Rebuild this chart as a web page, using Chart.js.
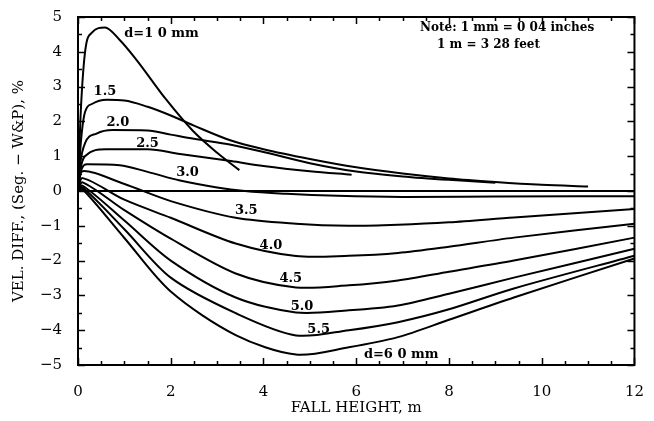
<!DOCTYPE html>
<html>
<head>
<meta charset="utf-8">
<script src="https://cdn.jsdelivr.net/npm/chart.js@4"></script>
<style>
  html, body { margin: 0; padding: 0; background: #fff; }
  #wrap { width: 654px; height: 421px; }
</style>
</head>
<body>
<div id="wrap"><canvas id="c" width="654" height="421"></canvas></div>
<script>
// ---- data (fall height m, velocity diff %) ----
const d10X = [0, 0.05, 0.15, 0.3, 0.58, 0.9, 1.26, 1.9, 2.47, 3.0, 3.48];
const d10Y = [0, 2.0, 3.97, 4.55, 4.7, 4.34, 3.77, 2.63, 1.74, 1.1, 0.6];

const d15X = [0, 0.05, 0.15, 0.3, 0.62, 1.0, 1.5, 2.0, 2.5, 3.3, 4.0, 5.0, 6.0, 7.0, 8.0, 9.0, 10.0, 11.0];
const d15Y = [0, 1.2, 2.26, 2.5, 2.62, 2.6, 2.42, 2.17, 1.88, 1.45, 1.2, 0.92, 0.68, 0.5, 0.36, 0.26, 0.18, 0.13];

const d20X = [0, 0.05, 0.15, 0.4, 0.75, 1.5, 2.0, 2.5, 3.3, 4.0, 5.0, 6.0, 7.0, 8.0, 9.0];
const d20Y = [0, 0.8, 1.37, 1.65, 1.75, 1.74, 1.62, 1.5, 1.33, 1.12, 0.8, 0.56, 0.42, 0.32, 0.24];

const d25X = [0, 0.05, 0.15, 0.6, 1.5, 2.2, 3.3, 4.0, 5.0, 5.9];
const d25Y = [0, 0.6, 1.0, 1.2, 1.2, 1.06, 0.86, 0.72, 0.57, 0.47];

const d30X = [0, 0.05, 0.2, 0.9, 1.5, 2.2, 3.0, 3.6, 4.5, 5.6, 7.0, 9.0, 12.0];
const d30Y = [0, 0.5, 0.77, 0.74, 0.55, 0.3, 0.1, 0.0, -0.08, -0.14, -0.17, -0.16, -0.15];

const dNegX = [0, 0.1, 1.0, 2.0, 3.4, 4.7, 5.84, 6.9, 8.0, 9.4, 12.0];
const d35Y = [0, 0.57, 0.2, -0.29, -0.77, -0.94, -1.0, -0.97, -0.9, -0.76, -0.52];
const d40Y = [0, 0.37, -0.25, -0.77, -1.51, -1.87, -1.86, -1.78, -1.6, -1.34, -0.94];
const d45Y = [0, 0.25, -0.55, -1.37, -2.37, -2.77, -2.71, -2.57, -2.32, -2.0, -1.34];
const d50Y = [0, 0.15, -0.85, -2.0, -3.06, -3.49, -3.43, -3.29, -2.95, -2.49, -1.66];
const d55Y = [0, 0.1, -1.1, -2.49, -3.51, -4.15, -4.0, -3.77, -3.4, -2.8, -1.86];
const d60Y = [0, 0.05, -1.35, -2.89, -4.14, -4.7, -4.49, -4.2, -3.7, -3.06, -1.94];

const zeroX = [0, 12];
const zeroY = [0, 0];

// curve labels: text, x, y (data units)
const curveLabels = [
  ['d=1 0 mm', 1.8, 4.51],
  ['1.5', 0.58, 2.86],
  ['2.0', 0.86, 1.97],
  ['2.5', 1.5, 1.37],
  ['3.0', 2.36, 0.54],
  ['3.5', 3.63, -0.57],
  ['4.0', 4.16, -1.57],
  ['4.5', 4.59, -2.51],
  ['5.0', 4.83, -3.31],
  ['5.5', 5.19, -3.97],
  ['d=6 0 mm', 6.97, -4.71]
];
const noteLines = ['Note: 1 mm = 0 04 inches', '1 m = 3 28 feet'];

const SERIF = '"DejaVu Serif", "Liberation Serif", serif';

function pts(xs, ys) {
  return xs.map((x, i) => ({ x: x, y: ys[i] }));
}

// smooth: 'mono' = monotone cubic, otherwise bezier tension
function line(xs, ys, smooth) {
  const ds = {
    data: pts(xs, ys),
    borderColor: '#000',
    borderWidth: 2,
    pointRadius: 0,
    fill: false
  };
  if (smooth === 'mono') ds.cubicInterpolationMode = 'monotone';
  else ds.tension = smooth || 0;
  return ds;
}

const datasets = [
  line(zeroX, zeroY, 0),
  line(d10X, d10Y, 'mono'),
  line(d15X, d15Y, 'mono'),
  line(d20X, d20Y, 'mono'),
  line(d25X, d25Y, 'mono'),
  line(d30X, d30Y, 'mono'),
  line(dNegX, d35Y, 0.3),
  line(dNegX, d40Y, 0.3),
  line(dNegX, d45Y, 0.3),
  line(dNegX, d50Y, 0.3),
  line(dNegX, d55Y, 0.3),
  line(dNegX, d60Y, 0.3)
];

// frame, inward ticks and text labels
const decorPlugin = {
  id: 'decor',
  afterDraw(chart) {
    const ctx = chart.ctx;
    const a = chart.chartArea;
    const xs = chart.scales.x, ys = chart.scales.y;
    ctx.save();
    ctx.strokeStyle = '#000';
    ctx.lineWidth = 2;
    ctx.strokeRect(a.left, a.top, a.right - a.left, a.bottom - a.top);

    ctx.lineWidth = 1.5;
    ctx.beginPath();
    for (let v = -5; v <= 5.001; v += 0.5) {
      const p = Math.round(ys.getPixelForValue(v)) + 0.5;
      const len = Math.abs(v % 1) < 0.01 ? 7 : 4;
      ctx.moveTo(a.left, p); ctx.lineTo(a.left + len, p);
      ctx.moveTo(a.right, p); ctx.lineTo(a.right - len, p);
    }
    for (let v = 0; v <= 12.001; v += 0.5) {
      const p = Math.round(xs.getPixelForValue(v)) + 0.5;
      const len = Math.abs(v % 2) < 0.01 ? 7 : 4;
      ctx.moveTo(p, a.bottom); ctx.lineTo(p, a.bottom - len);
      ctx.moveTo(p, a.top); ctx.lineTo(p, a.top + len);
    }
    ctx.stroke();

    ctx.fillStyle = '#000';
    ctx.textAlign = 'center';
    ctx.textBaseline = 'middle';
    ctx.font = 'bold 13px ' + SERIF;
    curveLabels.forEach(([t, x, y]) => {
      ctx.fillText(t, xs.getPixelForValue(x), ys.getPixelForValue(y));
    });

    ctx.font = 'bold 12px ' + SERIF;
    ctx.textAlign = 'left';
    ctx.fillText(noteLines[0], 420, 28);
    ctx.fillText(noteLines[1], 437, 45);
    ctx.restore();
  }
};

new Chart(document.getElementById('c'), {
  type: 'line',
  data: { datasets: datasets },
  options: {
    responsive: false,
    animation: false,
    layout: { padding: { top: 14, right: 17, left: 0, bottom: 0 } },
    plugins: { legend: { display: false }, tooltip: { enabled: false } },
    scales: {
      x: {
        type: 'linear',
        min: 0, max: 12,
        grid: { display: false },
        border: { display: false },
        ticks: {
          stepSize: 2, color: '#000', padding: 10,
          font: { family: SERIF, size: 15 }
        },
        title: {
          display: true, text: 'FALL HEIGHT, m', color: '#000',
          font: { family: SERIF, size: 15 }, padding: { top: 6 }
        },
        afterFit(s) { s.height = 56; }
      },
      y: {
        type: 'linear',
        min: -5, max: 5,
        grid: { display: false },
        border: { display: false },
        ticks: {
          stepSize: 1, color: '#000', padding: 8,
          font: { family: SERIF, size: 15 },
          callback: v => (v < 0 ? '\u2212' + Math.abs(v) : String(v))
        },
        title: {
          display: true, text: 'VEL. DIFF., (Seg. \u2212 W&P), %', color: '#000',
          font: { family: SERIF, size: 15 }, padding: { top: 10, bottom: 0 }
        },
        afterFit(s) { s.width = 78; }
      }
    }
  },
  plugins: [decorPlugin]
});
</script>
</body>
</html>
